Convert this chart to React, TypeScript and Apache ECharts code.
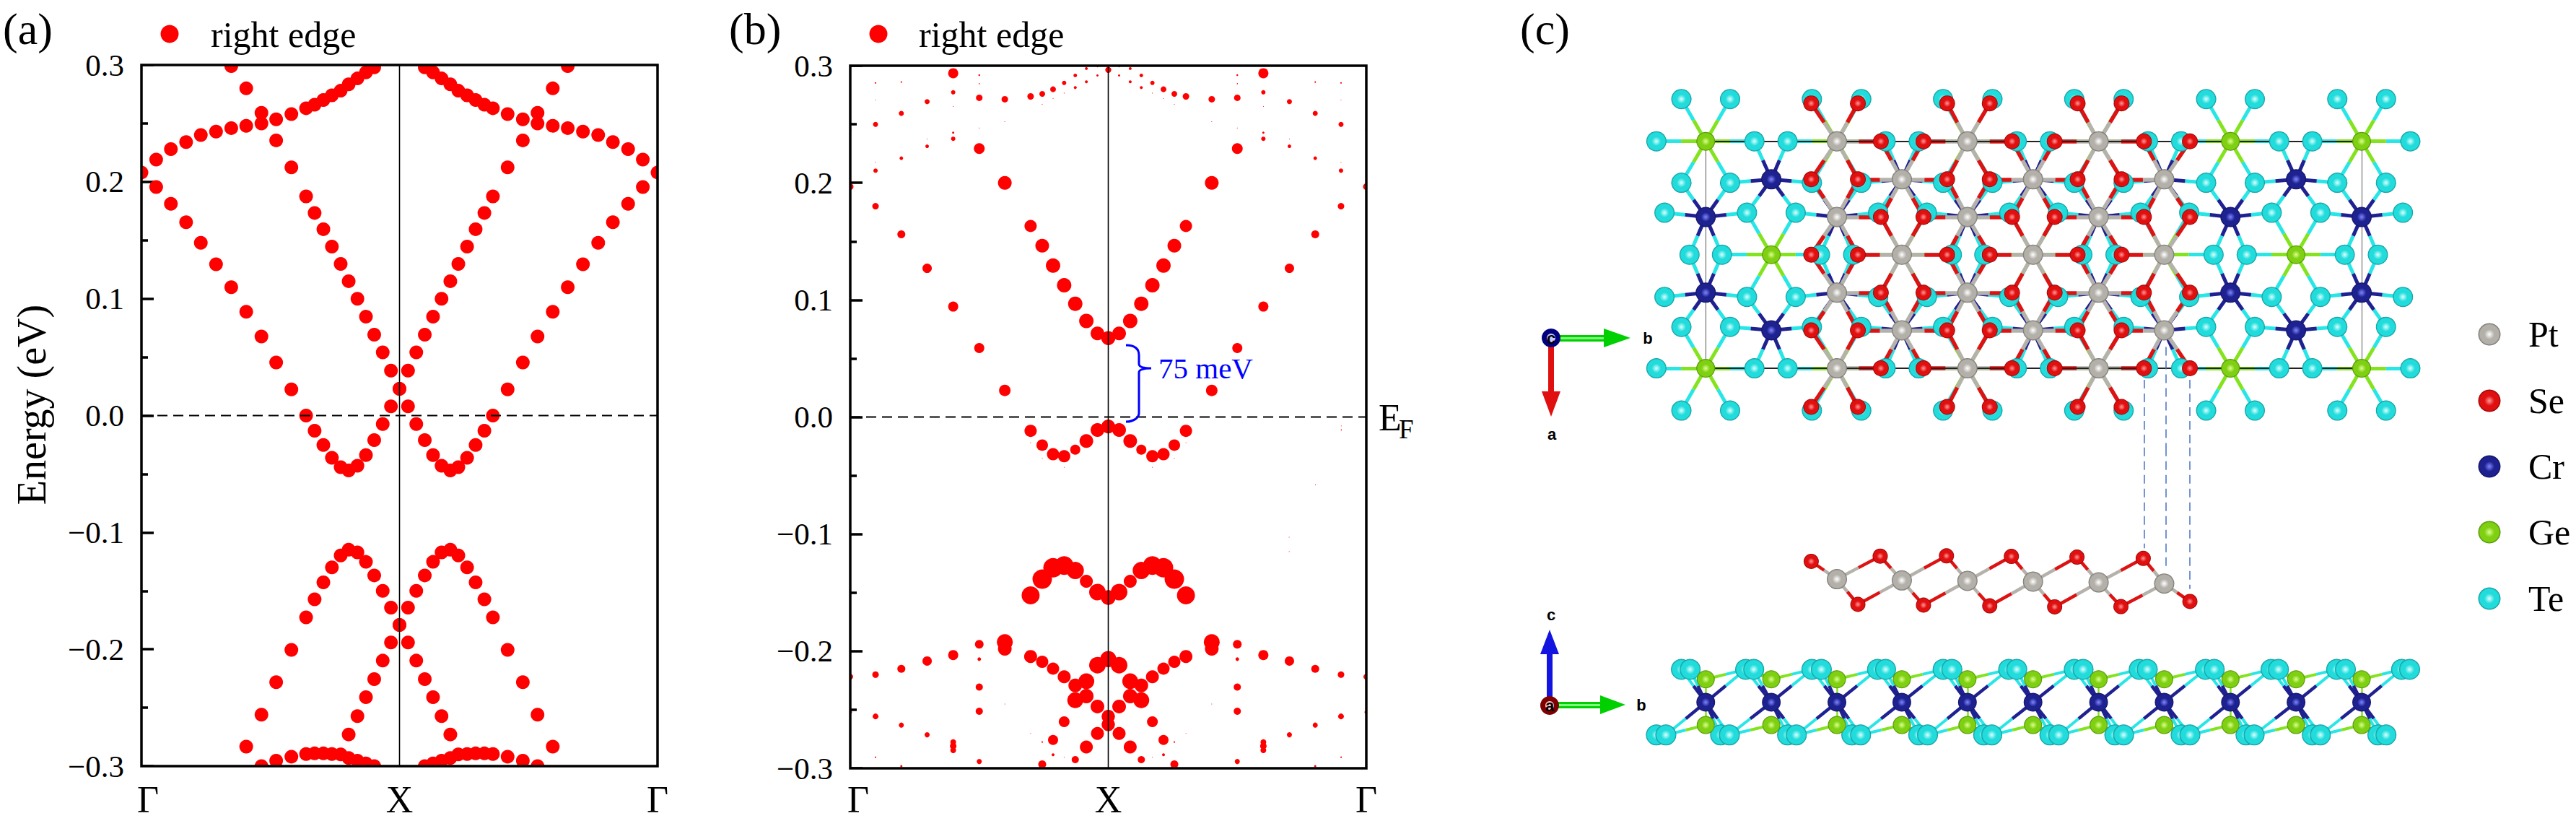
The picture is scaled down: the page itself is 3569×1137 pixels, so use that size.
import React, { useEffect, useRef } from "react";
import * as echarts from "echarts";

// ---------- panel (a): k-path samples and band energies (eV) ----------
const kLeftA = [0, .057, .114, .173, .23, .289, .348, .406, .465, .522, .581, .638, .671, .705, .738, .772, .803, .837, .87, .902, .935, .967, 1];
const kRightA = [2, 1.943, 1.886, 1.827, 1.77, 1.711, 1.652, 1.594, 1.535, 1.478, 1.419, 1.362, 1.329, 1.295, 1.262, 1.228, 1.197, 1.163, 1.13, 1.098, 1.065, 1.033, 1];
const _ = null;
const aUpper = [.208, .219, .228, .234, .24, .243, .246, .248, .25, .2535, .258, .263, .266, .27, .274, .278, .2835, .2885, .2937, .298, _, _, _];
const aSteep = [_, _, _, _, _, _, .299, .28, .259, .2355, .2124, .1876, .1734, .1595, .1446, .1297, .115, .0999, .0846, .0692, .0541, .0385, .0229];
const aPocket = [_, .1956, .1812, .1654, .1479, .1295, .1098, .0888, .0676, .0454, .0224, 0, -.013, -.0252, -.0361, -.0442, -.047, -.043, -.0338, -.021, -.0072, .0079, _];
const aValence = [_, _, _, _, _, _, _, -.2833, -.256, -.2282, -.2005, -.1727, -.1572, -.1428, -.1299, -.1197, -.1148, -.1171, -.1252, -.1368, -.15, -.1644, -.1792];
const aBack = [_, _, _, _, _, _, _, _, _, _, _, _, _, _, _, _, -.2729, -.2572, -.241, -.2255, -.2097, -.1942, _];
const aDeep = [_, _, _, _, _, _, _, _, -.3, -.2954, -.2919, -.2896, -.2891, -.2891, -.2896, -.29, -.293, -.2954, -.2977, -.3, _, _, _];
const bandsA = [aUpper, aSteep, aPocket, aValence, aBack, aDeep];

// ---------- panel (b): k-path samples; [k index, energy (eV), edge weight] ----------
const kLeftB = [0, .098, .198, .298, .399, .5, .599, .699, .744, .786, .829, .872, .915, .958, 1];
const kRightB = [2, 1.902, 1.802, 1.702, 1.601, 1.5, 1.401, 1.301, 1.256, 1.214, 1.171, 1.128, 1.085, 1.042, 1];
const bCond = [[14, .0674, 19], [13, .0714, 19], [12, .082, 20], [11, .0967, 20], [10, .1125, 20], [9, .1293, 20], [8, .1463, 19], [7, .1631, 17], [6, .2, 19], [5, .2293, 15], [4, .2376, 6], [4, .2428, 3], [3, .2312, 5], [2, .221, 5], [1, .2104, 6], [0, .245, 3]];
const bPocket = [[6, .0227, 16], [5, .0589, 14], [4, .0943, 14], [3, .127, 13], [2, .156, 11], [1, .18, 9], [0, .1967, 9]];
const bUpper = [[1, .2499, 7], [2, .2593, 7], [3, .2693, 7], [4, .2773, 6], [5, .2726, 9], [6, .2714, 9], [7, .2738, 9], [8, .2759, 8], [9, .2799, 8], [10, .2853, 6], [11, .2917, 5], [12, .2976, 4], [13, .2993, 2], [14, .2964, 8], [4, .2936, 14]];
const bFaint = [[12, .2863, 4], [11, .2813, 4], [13, .2917, 3], [5, .292, 2.5], [5, .2846, 1.5], [1, .2853, 2], [2, .286, 2], [1, .2707, 1], [4, .2652, 1], [8, .267, 1], [9, .272, 1], [10, .2766, 1], [3, .2374, 1], [5, .2468, 1], [6, .2522, 1], [1, .2175, 1]];
const bFermi = [[14, -.0081, 19], [13, -.0111, 19], [12, -.0205, 19], [11, -.0279, 14], [10, -.0335, 17], [9, -.0318, 17], [8, -.024, 16], [7, -.0118, 17], [7, -.022, 1], [8, -.0353, 1], [10, -.0429, 1]];
const bMid = [[14, -.1542, 20], [13, -.1495, 23], [12, -.1403, 18], [11, -.1311, 24], [10, -.1269, 26], [9, -.1288, 27], [8, -.1385, 27], [7, -.1523, 25]];
const bLow = [[6, -.1922, 22], [6, -.198, 19], [7, -.2045, 18], [8, -.2091, 17], [9, -.2149, 17], [10, -.2218, 18], [11, -.2292, 19], [12, -.2257, 22], [13, -.2119, 23], [14, -.2068, 22], [11, -.2419, 22], [12, -.2384, 20], [13, -.2472, 19], [14, -.2557, 18], [14, -.2626, 18], [13, -.2702, 18], [12, -.2818, 18], [11, -.2926, 10], [10, -.2603, 15], [9, -.2758, 14], [8, -.2966, 11]];
const bOuter = [[5, -.1941, 12], [4, -.2033, 14], [3, -.2084, 13], [2, -.2151, 11], [1, -.22, 9], [0, -.2218, 8], [5, -.2068, 5], [5, -.2306, 10], [5, -.2513, 10], [4, -.2776, 8], [4, -.281, 9], [4, -.2846, 8], [3, -.2714, 7], [2, -.2631, 7], [1, -.2557, 8], [0, -.252, 5], [5, -.2942, 7], [1, -.2906, 2], [2, -.2982, 3], [9, -.2885, 4], [10, -.2906, 1], [8, -.2776, 2], [7, -.2703, 1], [6, -.2451, 1]];
const bRightOnly = [[1.903, -.0076, 1], [1.903, -.011, 1.5], [1.803, -.058, 1], [1.701, -.1027, 1], [1.701, -.1149, 1]];
const tupleLists = [bCond, bPocket, bUpper, bFaint, bFermi, bMid, bLow, bOuter];

// ---------- panel (c): structure sites, in picture units ----------
const teRowA = [245, 317, 438, 511, 632, 705, 826, 899, 1021, 1093, 1215, 1287];
const teRowB = [208, 353, 402, 547, 596, 741, 790, 935, 984, 1129, 1178, 1323];
const teRowC = [220, 342, 414, 536, 608, 730, 802, 924, 996, 1118, 1190, 1312];
const teRowD = [257, 305, 450, 499, 645, 693, 838, 887, 1032, 1081, 1226, 1275];
const seRowOdd = [437, 506, 638, 701, 831, 896];
const seRowEven = [540, 603, 734, 797, 929, 997];
const ptRowOdd = [475, 668, 862];
const ptRowEven = [571, 765, 959];
const metalOdd = [281, 475, 668, 862, 1057, 1251];
const metalEven = [378, 571, 765, 959, 1154];
const sideMetal = [281, 378, 475, 571, 668, 765, 862, 959, 1057, 1154, 1251];
const sideGeGe = [281, 475, 668, 862, 1057, 1251];
const sideTeTop = [245, 258, 340, 352, 438, 452, 535, 547, 632, 645, 729, 741, 826, 839, 922, 934, 1020, 1033, 1117, 1128, 1214, 1227, 1310, 1322];
const sideTeBot = [208, 222, 303, 316, 402, 415, 497, 510, 596, 609, 692, 704, 790, 803, 886, 899, 984, 997, 1080, 1092, 1178, 1190, 1275, 1287];
const sidePt = [[475, 590], [571, 595], [668, 597], [765, 600], [862, 603], [959, 608]];
const sideSeTop = [[437, 518], [539, 497], [637, 496], [733, 498], [830, 501], [928, 506]];
const sideSeBot = [[506, 692], [603, 695], [701, 698], [797, 702], [895, 701], [997, 680]];
const guideTop = [[929, 1330], [961, 1215], [997, 1330]];
const guideBottom = [[929, 465], [961, 540], [997, 630]];
const elements = ["Pt", "Se", "Cr", "Ge", "Te"];

const SERIF = '"Liberation Serif", serif';
const SANS = '"Liberation Sans", sans-serif';

const zip = (ks: number[], es: any[]) => es.flatMap((e, i) => (e === null ? [] : [[ks[i], e]]));
const row = (xs: number[], y: number) => xs.map((x) => [x, y]);

const ball = (c: string[]) => ({
  type: "radial", x: 0.5, y: 0.5, r: 0.5,
  colorStops: [{ offset: 0, color: c[0] }, { offset: 0.45, color: c[1] }, { offset: 0.85, color: c[1] }, { offset: 1, color: c[2] }],
});
const PAL: any = {
  Pt: ["#ffffff", "#b3b0a9", "#6e6c66"],
  Se: ["#ff9a9a", "#e01010", "#8f0000"],
  Cr: ["#7f86ff", "#1e2190", "#10125c"],
  Ge: ["#dcff90", "#7fd012", "#4a8600"],
  Te: ["#d8ffff", "#22dcdc", "#0d8f96"],
};
const BOND: any = { Pt: "#b5b2ab", Se: "#dd1212", Cr: "#1f2191", Ge: "#84e31f", Te: "#28e6e6" };

const halfBonds = (A: number[][], B: number[][], cut: number, sx: number, sy: number) => {
  const a: any[] = [], b: any[] = [];
  for (const p of A) for (const q of B) {
    const d = Math.hypot((p[0] - q[0]) / sx, (p[1] - q[1]) / sy);
    if (d < cut) {
      const m = [(p[0] + q[0]) / 2, (p[1] + q[1]) / 2];
      a.push({ coords: [p, m] });
      b.push({ coords: [q, m] });
    }
  }
  return [a, b];
};

const bandAxisY = (gridIndex: number, name?: string) => ({
  type: "value", gridIndex, min: -0.3, max: 0.3, interval: 0.1,
  name, nameLocation: "middle", nameGap: 124,
  nameTextStyle: { fontFamily: SERIF, fontSize: 56, color: "#000", padding: [0, 0, 0, 30] },
  axisLine: { show: false },
  axisTick: { show: true, inside: true, length: 17, lineStyle: { width: 3.5, color: "#000" } },
  minorTick: { show: true, splitNumber: 2, length: 9, lineStyle: { width: 3.5, color: "#000" } },
  splitLine: { show: false }, minorSplitLine: { show: false },
  axisLabel: {
    margin: 24, fontFamily: SERIF, fontSize: 43, color: "#000",
    formatter: (v: number) => (v < -1e-6 ? "\u2212" + Math.abs(v).toFixed(1) : Math.abs(v).toFixed(1)),
  },
});
const bandAxisX = (gridIndex: number, margin: number, firstPad: number) => ({
  type: "value", gridIndex, min: 0, max: 2, interval: 1,
  axisLine: { show: false }, axisTick: { show: false }, splitLine: { show: false },
  axisLabel: {
    margin, fontFamily: SERIF, fontSize: 52, color: "#000", showMinLabel: true, showMaxLabel: true,
    rich: { g0: { fontFamily: SERIF, fontSize: 52, color: "#000", padding: [0, 0, 0, firstPad] } },
    formatter: (v: number) => (v === 1 ? "X" : v === 0 ? "{g0|\u0393}" : "\u0393"),
  },
});
const hiddenAxis = (gridIndex: number, inverse: boolean) => ({
  type: "value", gridIndex, min: 0, max: 1568, inverse, show: false, splitLine: { show: false },
});

const guides = (i: number) => [
  { type: "line", xAxisIndex: i, yAxisIndex: i, symbol: "none", silent: true, data: [[1, -0.3], [1, 0.3]], lineStyle: { color: "#000", width: 1.6 } },
  { type: "line", xAxisIndex: i, yAxisIndex: i, symbol: "none", silent: true, data: [[0, 0], [2, 0]], lineStyle: { color: "#000", width: 2, type: [14, 8] } },
];

const txt = (text: string, x: number, y: number, size: number, extra: any = {}) => ({
  type: "text", x, y, z: 52,
  style: { text, fontSize: size, fontFamily: SERIF, fill: "#000", textAlign: "left", textVerticalAlign: "middle", ...extra },
});
const triadLabel = { fontFamily: SANS, fontWeight: "bold", textAlign: "center" };

// white strips outside a plot frame hide the part of an edge dot that falls outside it; the frame goes on top
const plotFrame = (l: number, t: number, w: number, h: number) => {
  const m = 16;
  const white = { fill: "#fff" };
  return [
    { type: "rect", z: 48, silent: true, shape: { x: l - m, y: t - m, width: w + 2 * m, height: m }, style: white },
    { type: "rect", z: 48, silent: true, shape: { x: l - m, y: t + h, width: w + 2 * m, height: m }, style: white },
    { type: "rect", z: 48, silent: true, shape: { x: l - m, y: t - m, width: m, height: h + 2 * m }, style: white },
    { type: "rect", z: 48, silent: true, shape: { x: l + w, y: t - m, width: m, height: h + 2 * m }, style: white },
    { type: "rect", z: 49, silent: true, shape: { x: l, y: t, width: w, height: h }, style: { fill: "none", stroke: "#000", lineWidth: 3.5 } },
  ];
};

const buildOption = () => {
  const series: any[] = [];
  const scatter = (name: string, grid: number, data: any[], size: any, color: any) =>
    series.push({ type: "scatter", name, xAxisIndex: grid, yAxisIndex: grid, data, symbol: "circle", symbolSize: size, silent: true, itemStyle: { color, opacity: 1 } });
  const lines = (grid: number, data: any[], color: string, width: number, type: any = "solid", opacity = 1) =>
    series.push({ type: "lines", coordinateSystem: "cartesian2d", xAxisIndex: grid, yAxisIndex: grid, data, silent: true, lineStyle: { color, width, type, opacity, curveness: 0 } });

  // band panels
  series.push(...guides(0));
  const ptsA = bandsA.flatMap((b) => [...zip(kLeftA, b), ...zip(kRightA, b)]);
  scatter("right edge", 0, ptsA, 19, "#ff0000");

  series.push(...guides(1));
  const ptsB = tupleLists.flatMap((l) => l.flatMap(([i, e, w]) => [[kLeftB[i], e, w], [kRightB[i], e, w]]));
  scatter("right edge", 1, [...ptsB, ...bRightOnly], (v: number[]) => v[2], "#ff0000");

  // top view
  const SXT = 1568 / 1469, SYT = 1568 / 620;
  const te = [
    ...[347, 640, 1145, 1438].flatMap((y) => row(teRowA, y)),
    ...[495, 1290].flatMap((y) => row(teRowB, y)),
    ...[745, 1040].flatMap((y) => row(teRowC, y)),
    ...row(teRowD, 892),
  ];
  const ge = [...row(metalOdd, 495), ...row(metalOdd, 1290), ...row(metalEven, 892)];
  const cr = [...row(metalOdd, 760), ...row(metalOdd, 1025), ...row(metalEven, 628), ...row(metalEven, 1157)];
  const se = [...[362, 628, 892, 1157, 1425].flatMap((y) => row(seRowOdd, y)), ...[495, 760, 1025, 1290].flatMap((y) => row(seRowEven, y))];
  const pt = [...[495, 760, 1025, 1290].flatMap((y) => row(ptRowOdd, y)), ...[628, 892, 1157].flatMap((y) => row(ptRowEven, y))];

  const [crB, teB1] = halfBonds(cr, te, 60, SXT, SYT);
  const [geB, teB2] = halfBonds(ge, te, 72, SXT, SYT);
  const [ptB, seB] = halfBonds(pt, se, 66, SXT, SYT);
  lines(2, [...teB1, ...teB2], BOND.Te, 5);
  lines(2, crB, BOND.Cr, 5);
  lines(2, geB, BOND.Ge, 5);
  scatter("Te", 2, te, 28, ball(PAL.Te));
  const topCr = cr.filter((p) => !pt.some((q) => q[0] === p[0] && q[1] === p[1]));
  const topGe = ge.filter((p) => !pt.some((q) => q[0] === p[0] && q[1] === p[1]));
  scatter("Cr", 2, topCr, 28, ball(PAL.Cr));
  scatter("Ge", 2, topGe, 26, ball(PAL.Ge));
  lines(2, ptB, BOND.Pt, 5.5);
  lines(2, seB, BOND.Se, 5.5);
  scatter("Se", 2, se, 22, ball(PAL.Se));
  scatter("Pt", 2, pt, 28, ball(PAL.Pt));
  lines(2, [{ coords: [[281, 495], [1251, 495]] }, { coords: [[281, 1290], [1251, 1290]] }], "#222", 2);
  lines(2, [{ coords: [[281, 495], [281, 1290]] }, { coords: [[1251, 495], [1251, 1290]] }], "#555", 1);
  lines(2, guideTop.map((p) => ({ coords: [p, [p[0], 1568]] })), "#4472c4", 1.5, [12, 7]);

  // side view
  const SXS = 1568 / 1469, SYS = 1568 / 537;
  const sTeTop = row(sideTeTop, 955), sTeBot = row(sideTeBot, 1220);
  const sGe = [...row(sideMetal, 995), ...row(sideMetal, 1180)];
  const sCr = row(sideMetal, 1088);
  const sTe = [...sTeTop, ...sTeBot];
  const [sCrB, sTeB1] = halfBonds(sCr, sTe, 75, SXS, SYS);
  const [sGeB, sTeB2] = halfBonds(sGe, sTe, 60, SXS, SYS);
  const sSe = [...sideSeTop, ...sideSeBot];
  const [sPtB, sSeB] = halfBonds(sidePt, sSe, 75, SXS, SYS);
  lines(3, [...sTeB1, ...sTeB2], BOND.Te, 4);
  lines(3, sCrB, BOND.Cr, 4.5);
  lines(3, sGeB, BOND.Ge, 4);
  lines(3, sideGeGe.map((x) => ({ coords: [[x, 995], [x, 1180]] })), BOND.Ge, 2.5);
  scatter("Te", 3, sTe, 29, ball(PAL.Te));
  scatter("Ge", 3, sGe, 25, ball(PAL.Ge));
  scatter("Cr", 3, sCr, 26, ball(PAL.Cr));
  lines(3, sPtB, BOND.Pt, 4.5);
  lines(3, sSeB, BOND.Se, 4.5);
  scatter("Se", 3, sSe, 21, ball(PAL.Se));
  scatter("Pt", 3, sidePt, 28, ball(PAL.Pt));
  lines(3, guideBottom.map((p) => ({ coords: [[p[0], 58], p] })), "#4472c4", 1.5, [12, 7]);

  const legendY = [463, 555, 646, 737, 829];
  const graphic: any[] = [
    ...plotFrame(196, 90, 715, 971),
    ...plotFrame(1178, 91, 715, 973),
    txt("(a)", 4, 40, 62), txt("(b)", 1010, 40, 62), txt("(c)", 2106, 40, 62),
    { type: "circle", z: 50, shape: { cx: 235, cy: 47, r: 12.5 }, style: { fill: "#ff0000" } },
    { type: "circle", z: 50, shape: { cx: 1217, cy: 47, r: 12.5 }, style: { fill: "#ff0000" } },
    txt("right edge", 292, 48, 50), txt("right edge", 1273, 48, 50),
    { type: "brace", z: 50, x: 1560, y: 478, style: { fill: "none", stroke: "#0000ff", lineWidth: 3 } },
    txt("75 meV", 1605, 510, 41, { fill: "#0000ff" }),
    txt("E", 1910, 578, 52),
    txt("F", 1938, 594, 37),

    // a/b/c triad, top view
    { type: "rect", z: 50, shape: { x: 2149, y: 464, width: 76, height: 9 }, style: { fill: "#00d000" } },
    { type: "rect", z: 50, shape: { x: 2149, y: 467, width: 76, height: 3 }, style: { fill: "#7dff7d" } },
    { type: "polygon", z: 50, shape: { points: [[2222, 455], [2259, 468], [2222, 481]] }, style: { fill: "#00d000" } },
    { type: "rect", z: 50, shape: { x: 2145, y: 468, width: 8, height: 76 }, style: { fill: "#e01010" } },
    { type: "polygon", z: 50, shape: { points: [[2136, 542], [2149, 577], [2162, 542]] }, style: { fill: "#e01010" } },
    { type: "circle", z: 51, shape: { cx: 2149, cy: 468, r: 13 }, style: { fill: "#00007f" } },
    { type: "circle", z: 51, shape: { cx: 2149, cy: 468, r: 6 }, style: { fill: "#c8c8ff" } },
    txt("c", 2149, 468, 22, triadLabel),
    txt("b", 2283, 468, 22, triadLabel),
    txt("a", 2150, 601, 22, triadLabel),

    // a/b/c triad, side view
    { type: "rect", z: 50, shape: { x: 2147, y: 972, width: 72, height: 9 }, style: { fill: "#00d000" } },
    { type: "rect", z: 50, shape: { x: 2147, y: 975, width: 72, height: 3 }, style: { fill: "#7dff7d" } },
    { type: "polygon", z: 50, shape: { points: [[2217, 963], [2252, 976], [2217, 989]] }, style: { fill: "#00d000" } },
    { type: "rect", z: 50, shape: { x: 2143, y: 905, width: 8, height: 72 }, style: { fill: "#1414e0" } },
    { type: "polygon", z: 50, shape: { points: [[2134, 906], [2147, 872], [2160, 906]] }, style: { fill: "#1414e0" } },
    { type: "circle", z: 51, shape: { cx: 2147, cy: 977, r: 13 }, style: { fill: "#7f0000" } },
    { type: "circle", z: 51, shape: { cx: 2147, cy: 977, r: 6 }, style: { fill: "#ffc8c8" } },
    txt("a", 2147, 977, 22, triadLabel),
    txt("b", 2274, 976, 22, triadLabel),
    txt("c", 2149, 851, 22, triadLabel),

    ...elements.flatMap((el, i) => [
      { type: "circle", z: 50, shape: { cx: 3449, cy: legendY[i], r: 15.5 }, style: { fill: new echarts.graphic.RadialGradient(0.5, 0.5, 0.5, ball(PAL[el]).colorStops) } },
      txt(el, 3503, legendY[i], 50),
    ]),
  ];

  return {
    animation: false,
    backgroundColor: "#fff",
    grid: [
      { left: 196, top: 90, width: 715, height: 971 },
      { left: 1178, top: 91, width: 715, height: 973 },
      { left: 2100, top: 0, width: 1469, height: 620 },
      { left: 2100, top: 600, width: 1469, height: 537 },
    ],
    xAxis: [bandAxisX(0, 20, 18), bandAxisX(1, 17, 22), hiddenAxis(2, false), hiddenAxis(3, false)],
    yAxis: [bandAxisY(0, "Energy (eV)"), bandAxisY(1), hiddenAxis(2, true), hiddenAxis(3, true)],
    series,
    graphic,
  };
};

echarts.graphic.registerShape(
  "brace",
  echarts.graphic.extendPath("M0 0C10 0 18 3 18 14V26C18 30 24 32 35 32C24 32 18 34 18 38V94C18 101 10 106 0 106", {})
);

export default function App() {
  const ref = useRef<HTMLDivElement>(null);
  useEffect(() => {
    document.body.style.margin = "0";
    document.body.style.background = "#fff";
    const chart = echarts.init(ref.current!, undefined, { renderer: "svg" });
    chart.setOption(buildOption() as any);
    return () => chart.dispose();
  }, []);
  return <div ref={ref} style={{ width: 3569, height: 1137 }} />;
}
